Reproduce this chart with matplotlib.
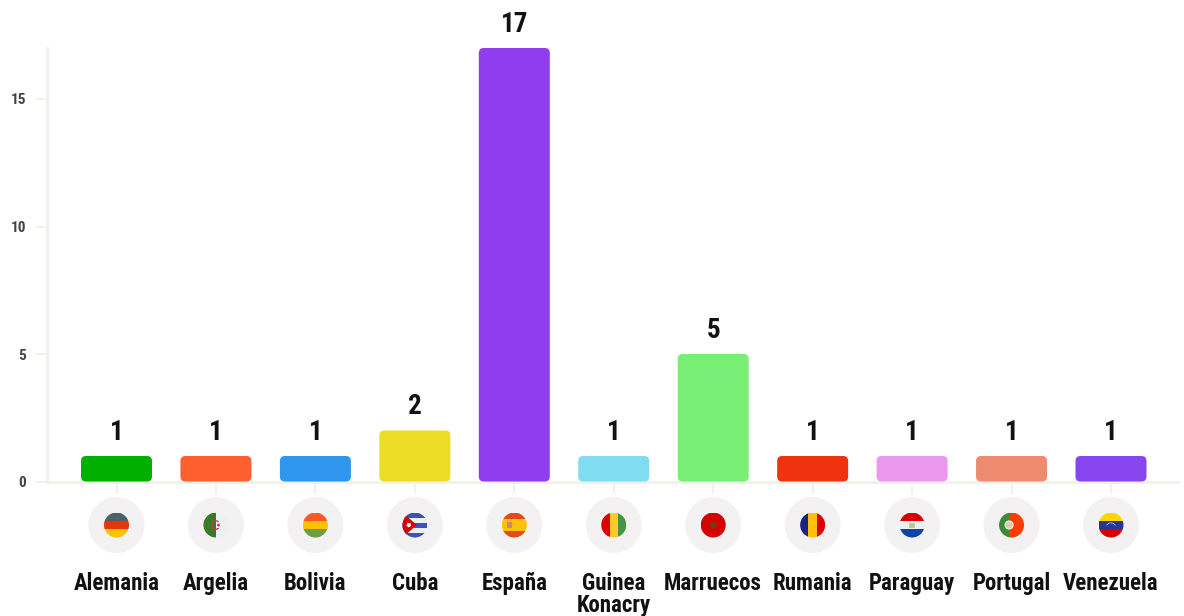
import matplotlib
matplotlib.use("Agg")
import matplotlib.pyplot as plt
from matplotlib.patches import Circle, FancyBboxPatch, Polygon, Rectangle, RegularPolygon, Wedge
from matplotlib import font_manager as fm

paises = ["Alemania", "Argelia", "Bolivia", "Cuba", "España", "Guinea\nKonacry",
          "Marruecos", "Rumania", "Paraguay", "Portugal", "Venezuela"]
valores = [1, 1, 1, 2, 17, 1, 5, 1, 1, 1, 1]
colores = ["#00b000", "#ff5f2e", "#2f96ee", "#eddc25", "#8f3dee", "#80dcf0",
           "#78ee74", "#f0330f", "#ea97ee", "#ee8a6d", "#8645ee"]
yticks = [0, 5, 10, 15]

# stripes of each flag: direction and colours
banderas = [
    ("h", ["#4f6069", "#e8340c", "#ffc107"]),
    ("v", ["#3d7a28", "#ecf1f4"]),
    ("h", ["#ff5722", "#ffc107", "#6d9f3c"]),
    ("h", ["#3f51b5", "#eceff1", "#3f51b5", "#eceff1", "#3f51b5"]),
    ("h", ["#e64a19", "#ffc107", "#ffc107", "#e64a19"]),
    ("v", ["#dd0000", "#fdc82f", "#43983f"]),
    ("h", ["#d50000"]),
    ("v", ["#1a237e", "#ffc107", "#dd0000"]),
    ("h", ["#d50000", "#eceff1", "#0d47a1"]),
    ("v", ["#3d8b37", "#3d8b37", "#ff3d00", "#ff3d00", "#ff3d00"]),
    ("h", ["#ffd600", "#283593", "#d50000"]),
]

nombres = {f.name for f in fm.fontManager.ttflist}
fuente = next(n for n in ["Roboto Condensed", "Liberation Sans Narrow", "Roboto"] if n in nombres)
GRIS = "#f1f1eb"

W, H = 1184, 616
fig = plt.figure(figsize=(W / 100, H / 100), dpi=100)
ax = fig.add_axes([47 / W, (H - 481.5) / H, (1178 - 47) / W, (481.5 - 48) / H])

paso = 99.45
ax.set_xlim((47 - 116.5) / paso, (1178 - 116.5) / paso)
ax.set_ylim(0, 17)

px_y = (481.5 - 48) / 17
barras = ax.bar(range(len(paises)), valores, width=71 / paso, color=colores)
for b in barras:
    ax.add_patch(FancyBboxPatch((b.get_x(), b.get_y()), b.get_width(), b.get_height(),
                                boxstyle=f"round,pad=0,rounding_size={5 / paso}",
                                mutation_aspect=paso / px_y, fc=b.get_facecolor(), ec="none",
                                zorder=3, clip_on=False))
    b.set_visible(False)
    ax.annotate(str(int(b.get_height())), (b.get_x() + b.get_width() / 2, b.get_height()),
                xytext=(0, 7.5), textcoords="offset points", ha="center", va="bottom",
                fontsize=19.5, fontweight="bold", family=fuente, color="#111111")

for lado in ["top", "right"]:
    ax.spines[lado].set_visible(False)
for lado in ["left", "bottom"]:
    ax.spines[lado].set_color(GRIS)
    ax.spines[lado].set_linewidth(2)

ax.set_yticks(yticks)
ax.set_xticks(range(len(paises)))
ax.set_xticklabels(paises, fontsize=16.5, fontweight="bold", family=fuente, color="#111111",
                   linespacing=0.98)
ax.tick_params(axis="x", length=8.5, width=1.5, color=GRIS, pad=56.5)
ax.tick_params(axis="y", length=8, width=1.5, color=GRIS, pad=7)
for t in ax.get_yticklabels():
    t.set_fontsize(11)
    t.set_fontweight("bold")
    t.set_family(fuente)
    t.set_color("#444444")

# flags, drawn on an overlay in pixel units (y axis points down)
ov = fig.add_axes([0, 0, 1, 1], facecolor="none")
ov.set_xlim(0, W)
ov.set_ylim(H, 0)
ov.axis("off")
R = 12.5
YF = 525
for i, (sentido, franjas) in enumerate(banderas):
    cx = ax.transData.transform((i, 0))[0]
    ov.add_patch(Circle((cx, YF), 28, fc="#f3f1f2", ec="none"))
    borde = Circle((cx, YF), R, fc="none", ec="none")
    ov.add_patch(borde)
    n = len(franjas)
    for k, c in enumerate(franjas):
        if sentido == "h":
            r = Rectangle((cx - R, YF - R + 2 * R * k / n), 2 * R, 2 * R / n, fc=c, ec="none")
        else:
            r = Rectangle((cx - R + 2 * R * k / n, YF - R), 2 * R / n, 2 * R, fc=c, ec="none")
        ov.add_patch(r)
        r.set_clip_path(borde)
    if paises[i] == "Argelia":
        ov.add_patch(Wedge((cx, YF), 4.8, 50, 310, width=1.3, fc="#d9304f", ec="none"))
        ov.add_patch(RegularPolygon((cx + 2.5, YF), 5, radius=1.6, fc="#d9304f", ec="none"))
    elif paises[i] == "Cuba":
        t = Polygon([(cx - R, YF - R), (cx + 2, YF), (cx - R, YF + R)], fc="#d50000", ec="none")
        ov.add_patch(t)
        t.set_clip_path(borde)
        ov.add_patch(RegularPolygon((cx - 6, YF), 5, radius=2.5, fc="#ffffff", ec="none"))
    elif paises[i] == "España":
        ov.add_patch(Rectangle((cx - 7, YF - 3), 4.5, 6, fc="#c98a6a", ec="none"))
    elif paises[i] == "Marruecos":
        ov.add_patch(RegularPolygon((cx, YF), 5, radius=4, fc="#7a3a10", ec="none"))
    elif paises[i] == "Paraguay":
        ov.add_patch(Rectangle((cx - 3, YF - 2.5), 6, 5, fc="#b5c9a0", ec="none"))
    elif paises[i] == "Portugal":
        ov.add_patch(Circle((cx - 2.5, YF), 4, fc="#e8c8a8", ec="#eceff1", lw=0.8))
    elif paises[i] == "Venezuela":
        ov.add_patch(Wedge((cx, YF + 3), 5.5, 210, 330, width=0.8, fc="#c5cae9", ec="none"))

fig.savefig("out.png", dpi=100, facecolor="white")
